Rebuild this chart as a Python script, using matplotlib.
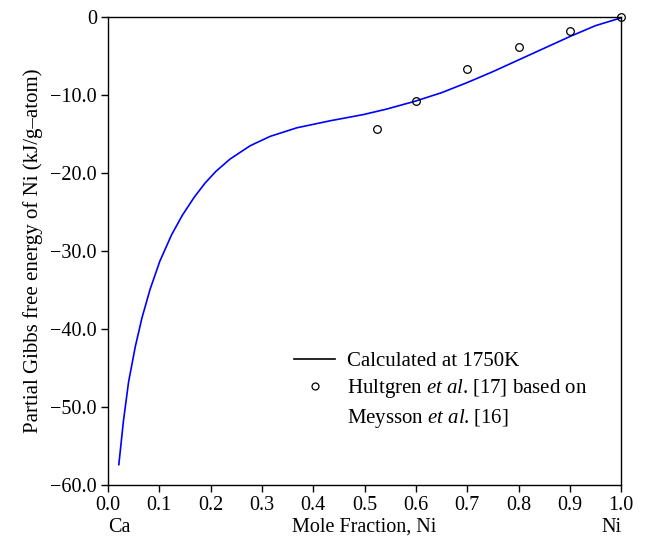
import matplotlib
matplotlib.use("Agg")
import matplotlib.pyplot as plt
from matplotlib.lines import Line2D

plt.rcParams['font.family'] = ['Liberation Serif', 'DejaVu Serif']
plt.rcParams['mathtext.fontset'] = 'custom'
plt.rcParams['mathtext.rm'] = 'Liberation Serif'
plt.rcParams['mathtext.it'] = 'Liberation Serif:italic'

# calculated curve at 1750K
x_calc = [0.021, 0.03, 0.040, 0.053, 0.066, 0.082, 0.101, 0.124, 0.145, 0.168, 0.189,
          0.21, 0.238, 0.277, 0.316, 0.368, 0.433, 0.498, 0.543, 0.598, 0.65, 0.70, 0.75,
          0.80, 0.85, 0.90, 0.95, 1.00]
g_calc = [-57.4, -51.8, -46.8, -42.3, -38.6, -34.9, -31.3, -27.9, -25.4, -23.1, -21.3,
          -19.8, -18.2, -16.5, -15.3, -14.2, -13.3, -12.5, -11.8, -10.8, -9.7, -8.4, -7.0,
          -5.5, -4.0, -2.5, -1.1, -0.1]

# Hultgren et al. data
x_exp = [0.525, 0.60, 0.70, 0.80, 0.90, 1.00]
g_exp = [-14.3, -10.8, -6.6, -3.8, -1.8, 0.0]

xticks = [0.0, 0.1, 0.2, 0.3, 0.4, 0.5, 0.6, 0.7, 0.8, 0.9, 1.0]
yticks = [0, -10, -20, -30, -40, -50, -60]
ylabels = ['0', '\u221210.0', '\u221220.0', '\u221230.0', '\u221240.0', '\u221250.0', '\u221260.0']

fig = plt.figure(figsize=(6.47, 5.51), dpi=100)
ax = fig.add_axes([0.167, 0.120, 0.793, 0.849])

ax.plot(x_calc, g_calc, color='blue', lw=1.2)
ax.plot(x_exp, g_exp, 'o', mfc='none', mec='black', ms=5.5, mew=0.9, clip_on=False)

ax.set_xlim(0, 1.0)
ax.set_ylim(-60, 0)
ax.set_xticks(xticks)
ax.set_xticklabels([f"{t:.1f}" for t in xticks])
ax.set_yticks(yticks)
ax.set_yticklabels(ylabels)
ax.tick_params(direction='out', length=5, width=1, labelsize=14.5, pad=3,
               top=False, right=False)
for s in ax.spines.values():
    s.set_linewidth(1.0)

ax.set_ylabel('Partial Gibbs free energy of Ni (kJ/g\u2013atom)', fontsize=15, labelpad=5)
ax.text(0.5, -0.07, 'Mole Fraction, Ni', transform=ax.transAxes, ha='center', va='top', fontsize=14.5)
ax.text(0.0, -0.07, 'Ca', transform=ax.transAxes, ha='left', va='top', fontsize=14.5)
ax.text(1.0, -0.07, 'Ni', transform=ax.transAxes, ha='right', va='top', fontsize=14.5)

handles = [Line2D([], [], color='black', lw=1.2),
           Line2D([], [], ls='none', marker='o', mfc='none', mec='black', ms=5, mew=0.9),
           Line2D([], [], ls='none')]
labels = ['Calculated at 1750K',
          'Hultgren $\\it{et\\ al}$.\u2009[17] based on',
          'Meysson $\\it{et\\ al}$.\u2009[16]']
ax.legend(handles, labels, loc='upper left', bbox_to_anchor=(0.362, 0.285), frameon=False,
          fontsize=15, handlelength=2.0, handletextpad=0.55, labelspacing=0.3,
          borderpad=0, borderaxespad=0)

fig.savefig('out.png', dpi=100)
